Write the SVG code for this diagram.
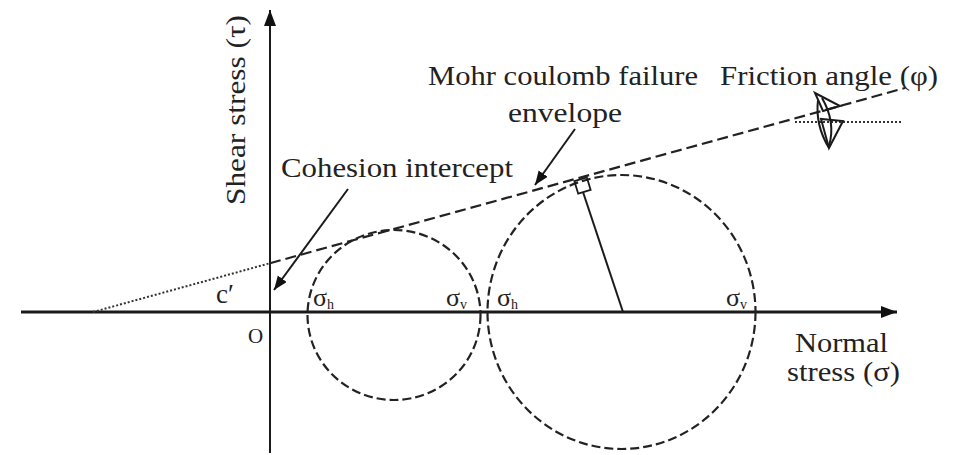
<svg xmlns="http://www.w3.org/2000/svg" width="954" height="455" viewBox="0 0 954 455">
<style>
  .t { font-family: "Liberation Serif", "Times New Roman", serif; font-size: 27px; fill: #222; }
  .s { font-family: "Liberation Serif", "Times New Roman", serif; font-size: 26px; fill: #222; }
  .sub { font-size: 14px; }
  .axis { stroke: #1a1a1a; fill: none; }
  .circ { stroke: #222; stroke-width: 2.2; fill: none; stroke-dasharray: 9 4; }
  .env { stroke: #222; stroke-width: 2.2; fill: none; stroke-dasharray: 11 5; }
  .dot { stroke: #333; stroke-width: 2; fill: none; stroke-dasharray: 2 2; }
  .ln { stroke: #1a1a1a; stroke-width: 2; fill: none; }
</style>
<defs>
  <marker id="ah" markerUnits="userSpaceOnUse" markerWidth="18" markerHeight="14" refX="16" refY="6" orient="auto">
    <path d="M0,0 L16,6 L0,12 Z" fill="#111"/>
  </marker>
  <marker id="ah2" markerUnits="userSpaceOnUse" markerWidth="16" markerHeight="14" refX="14" refY="5.5" orient="auto">
    <path d="M0,0 L14,5.5 L0,11 Z" fill="#111"/>
  </marker>
</defs>
<rect width="954" height="455" fill="#fff"/>

<g id="axes">
  <line class="axis" x1="21" y1="312" x2="897" y2="312" stroke-width="3" marker-end="url(#ah)"/>
  <line class="axis" x1="270" y1="453" x2="270" y2="10" stroke-width="2" marker-end="url(#ah)"/>
  <text class="t" transform="translate(245,205) rotate(-90)" textLength="190" lengthAdjust="spacingAndGlyphs">Shear stress (τ)</text>
  <text class="t" x="795" y="352" textLength="93" lengthAdjust="spacingAndGlyphs">Normal</text>
  <text class="t" x="787" y="381" textLength="113" lengthAdjust="spacingAndGlyphs">stress (σ)</text>
  <text class="t" x="248" y="343" font-size="21" style="font-size:21px">O</text>
</g>

<g id="small-circle">
  <ellipse class="circ" cx="394" cy="315" rx="86.5" ry="85"/>
  <text class="s" x="313" y="306">σ<tspan class="sub" dy="3">h</tspan></text>
  <text class="s" x="446" y="306">σ<tspan class="sub" dy="3">v</tspan></text>
</g>

<g id="large-circle">
  <ellipse class="circ" cx="621.5" cy="312" rx="134" ry="137"/>
  <text class="s" x="497" y="306">σ<tspan class="sub" dy="3">h</tspan></text>
  <text class="s" x="726" y="306">σ<tspan class="sub" dy="3">v</tspan></text>
  <line class="ln" x1="623" y1="312" x2="583" y2="192"/>
  <rect x="576" y="179" width="13" height="13" fill="none" stroke="#1a1a1a" stroke-width="1.8" transform="rotate(-17 582.5 185.5)"/>
</g>

<g id="envelope">
  <line class="dot" x1="93" y1="312" x2="270" y2="263.2"/>
  <line class="env" x1="270" y1="263.2" x2="905" y2="88"/>
  <text class="t" x="428" y="85" textLength="270" lengthAdjust="spacingAndGlyphs">Mohr coulomb failure</text>
  <text class="t" x="508" y="122" textLength="114" lengthAdjust="spacingAndGlyphs">envelope</text>
</g>

<g id="cohesion">
  <text class="t" x="281" y="177" textLength="232" lengthAdjust="spacingAndGlyphs">Cohesion intercept</text>
  <text class="t" x="216" y="303">c′</text>
</g>

<g id="friction-angle">
  <text class="t" x="720" y="85" textLength="218" lengthAdjust="spacingAndGlyphs">Friction angle (φ)</text>
  <line class="dot" x1="795" y1="122" x2="903" y2="122"/>
  <path class="ln" d="M815,93 L840,106 L823,111 Z" stroke-width="1.8"/>
  <path class="ln" d="M829,148 L843,121 L821,119 Z" stroke-width="1.8"/>
  <path class="ln" d="M818,100 Q815,125 829,148 M822,98 Q836,122 829,146" stroke-width="1.8"/>
</g>

<g id="connectors">
  <line class="ln" x1="575" y1="129" x2="535" y2="185" marker-end="url(#ah2)"/>
  <line class="ln" x1="348" y1="189" x2="274" y2="290" marker-end="url(#ah2)"/>
</g>
</svg>
